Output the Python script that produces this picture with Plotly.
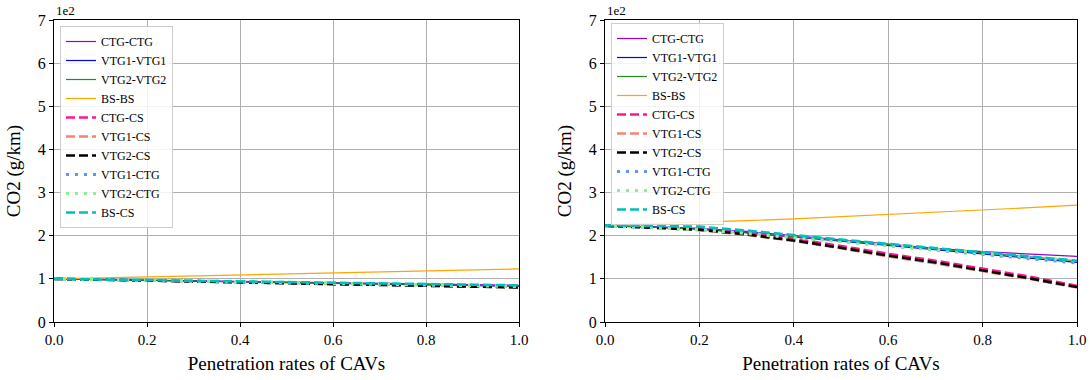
import plotly.graph_objects as go

x = [0.0, 0.1, 0.2, 0.3, 0.4, 0.5, 0.6, 0.7, 0.8, 0.9, 1.0]

names = ["CTG-CTG", "VTG1-VTG1", "VTG2-VTG2", "BS-BS", "CTG-CS", "VTG1-CS",
         "VTG2-CS", "VTG1-CTG", "VTG2-CTG", "BS-CS"]

# Left panel (g/km)
left_ctg_ctg = [100, 98.5, 97, 95.5, 94, 92.5, 91, 89.5, 88, 86.5, 85]
left_vtg1_vtg1 = [100, 98.2, 96.5, 94.8, 93, 91.2, 89.5, 87.8, 86, 84.3, 82.5]
left_vtg2_vtg2 = [100, 98.3, 96.7, 95, 93.3, 91.6, 90, 88.3, 86.6, 85, 83.3]
left_bs_bs = [100, 102.2, 104.5, 106.8, 109, 111.3, 113.6, 115.9, 118.2, 120.5, 123]
left_ctg_cs = [100, 98.1, 96.2, 94.3, 92.4, 90.5, 88.6, 86.7, 84.8, 82.9, 81]
left_vtg1_cs = [100, 98.0, 96.0, 94.0, 92.0, 90.0, 88.0, 86.0, 84.0, 82.0, 80]
left_vtg2_cs = [100, 98.0, 96.0, 94.0, 92.0, 90.0, 88.0, 86.0, 84.0, 82.0, 80]
left_vtg1_ctg = [100, 98.2, 96.5, 94.8, 93, 91.2, 89.5, 87.8, 86, 84.3, 82.5]
left_vtg2_ctg = [100, 98.3, 96.6, 94.9, 93.2, 91.5, 89.8, 88.1, 86.4, 84.7, 83]
left_bs_cs = [100, 98.5, 97, 95.5, 94, 92.5, 91, 89.5, 88, 86.5, 85]

# Right panel (g/km)
right_ctg_ctg = [223, 221, 217, 210, 200, 190, 180, 171, 163, 157, 152]
right_vtg1_vtg1 = [223, 220, 215, 207, 197, 187, 177, 167, 157, 147, 138]
right_vtg2_vtg2 = [223, 220, 215, 207, 198, 189, 179, 170, 160, 151, 142]
right_bs_bs = [225, 228, 231, 235, 239, 244, 249, 254, 259, 265, 271]
right_ctg_cs = [223, 220, 216, 206, 193, 176, 158, 142, 124, 105, 84]
right_vtg1_cs = [223, 219, 213, 202, 188, 171, 152, 136, 118, 100, 80]
right_vtg2_cs = [223, 219, 214, 203, 189, 172, 154, 138, 120, 101, 81]
right_vtg1_ctg = [223, 220, 215, 207, 197, 187, 177, 167, 157, 147, 137]
right_vtg2_ctg = [223, 219, 214, 205, 195, 186, 177, 168, 159, 150, 142]
right_bs_cs = [224, 223, 221, 212, 201, 191, 181, 171, 161, 151, 142]

y_ticks = [0, 100, 200, 300, 400, 500, 600, 700]
y_tick_text = ["0", "1", "2", "3", "4", "5", "6", "7"]
x_ticks = [0.0, 0.2, 0.4, 0.6, 0.8, 1.0]
x_tick_text = ["0.0", "0.2", "0.4", "0.6", "0.8", "1.0"]

left_data = [left_ctg_ctg, left_vtg1_vtg1, left_vtg2_vtg2, left_bs_bs, left_ctg_cs,
             left_vtg1_cs, left_vtg2_cs, left_vtg1_ctg, left_vtg2_ctg, left_bs_cs]
right_data = [right_ctg_ctg, right_vtg1_vtg1, right_vtg2_vtg2, right_bs_bs, right_ctg_cs,
              right_vtg1_cs, right_vtg2_cs, right_vtg1_ctg, right_vtg2_ctg, right_bs_cs]

styles = [
    dict(color="#9400D3", width=1.2, dash="solid"),
    dict(color="#0000FF", width=1.2, dash="solid"),
    dict(color="#228B22", width=1.2, dash="solid"),
    dict(color="#FFA500", width=1.2, dash="solid"),
    dict(color="#FF1493", width=2.6, dash="9px,4px"),
    dict(color="#FA8072", width=2.6, dash="9px,4px"),
    dict(color="#000000", width=2.6, dash="9px,4px"),
    dict(color="#6495ED", width=3.2, dash="3px,6px"),
    dict(color="#90EE90", width=3.2, dash="3px,6px"),
    dict(color="#00BFBF", width=2.6, dash="9px,4px"),
]

FONT = "Liberation Serif"
fig = go.Figure()

for i, n in enumerate(names):
    fig.add_trace(go.Scatter(x=x, y=left_data[i], mode="lines", name=n,
                             line=styles[i], xaxis="x", yaxis="y", legend="legend"))
for i, n in enumerate(names):
    fig.add_trace(go.Scatter(x=x, y=right_data[i], mode="lines", name=n,
                             line=styles[i], xaxis="x2", yaxis="y2", legend="legend2"))

W, H = 1092, 380
lx0, lx1 = 54 / W, 519 / W
rx0, rx1 = 605 / W, 1077 / W
yb, yt = 1 - 322 / H, 1 - 20 / H

xaxis_common = dict(range=[0, 1], tickvals=x_ticks, ticktext=x_tick_text, automargin=False,
                    showgrid=True, gridcolor="#b0b0b0", gridwidth=1,
                    showline=True, linecolor="black", linewidth=1.2, mirror=True,
                    ticks="outside", ticklen=4, tickcolor="black", zeroline=False,
                    tickfont=dict(family=FONT, size=15, color="black"),
                    title=dict(text="Penetration rates of CAVs",
                               font=dict(family=FONT, size=19, color="black"), standoff=9))
yaxis_common = dict(range=[0, 700], tickvals=y_ticks, ticktext=y_tick_text, automargin=False,
                    showgrid=True, gridcolor="#b0b0b0", gridwidth=1,
                    showline=True, linecolor="black", linewidth=1.2, mirror=True,
                    ticks="outside", ticklen=4, tickcolor="black", zeroline=False,
                    tickfont=dict(family=FONT, size=16, color="black"),
                    title=dict(text="CO2 (g/km)",
                               font=dict(family=FONT, size=19, color="black"), standoff=12))

legend_common = dict(bgcolor="rgba(255,255,255,0.85)", bordercolor="#cccccc", borderwidth=1,
                     font=dict(family=FONT, size=12, color="black"),
                     xanchor="left", yanchor="top", tracegroupgap=0)

fig.update_layout(
    width=W, height=H,
    margin=dict(l=0, r=0, t=0, b=0, autoexpand=False),
    paper_bgcolor="white", plot_bgcolor="white",
    xaxis=dict(domain=[lx0, lx1], anchor="y", **xaxis_common),
    yaxis=dict(domain=[yb, yt], anchor="x", **yaxis_common),
    xaxis2=dict(domain=[rx0, rx1], anchor="y2", **xaxis_common),
    yaxis2=dict(domain=[yb, yt], anchor="x2", **yaxis_common),
    legend=dict(x=60 / W, y=1 - 26 / H, **legend_common),
    legend2=dict(x=611 / W, y=1 - 23 / H, **legend_common),
    annotations=[
        dict(text="1e2", x=lx0, y=yt, xref="paper", yref="paper", xanchor="left",
             yanchor="bottom", showarrow=False, font=dict(family=FONT, size=13, color="black")),
        dict(text="1e2", x=rx0, y=yt, xref="paper", yref="paper", xanchor="left",
             yanchor="bottom", showarrow=False, font=dict(family=FONT, size=13, color="black")),
    ],
)

fig.write_html("out.html")
